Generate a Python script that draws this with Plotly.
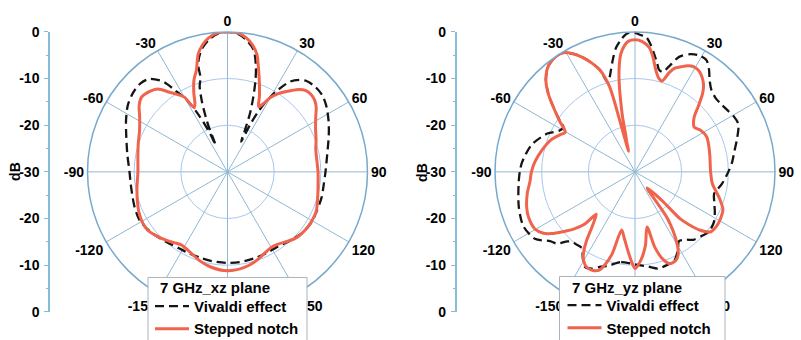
import plotly.graph_objects as go

# ---------------- data ----------------
# Left panel: 7 GHz xz plane
xz_vivaldi_deg = [-180, -170, -163, -155, -147.6, -138, -130, -124, -118.4, -111, -105, -97, -90,
                  -80, -69.4, -63, -56.2, -50, -44.3, -40, -35.5, -32.6, -29.1, -26.5, -24.5, -23.9,
                  -22.5, -21.7, -20, -18, -16, -15.2, -12, -8, -4, 0,
                  4, 8, 12, 15, 17, 19, 21, 22.5, 24.3, 25.5, 27, 29, 31, 34.8, 38, 41, 46,
                  51.2, 56, 63, 70, 80, 90, 97.5, 105, 115.1, 121, 128.7, 137, 146.2, 155, 163, 172, 180]
xz_vivaldi_db = [-10.5, -10.6, -10.7, -10.7, -10.6, -10.0, -9.3, -8.8, -8.5, -8.7, -8.95, -9.1, -9.0,
                 -8.2, -6.8, -5.6, -4.3, -3.6, -3.4, -4.0, -6.2, -9.4, -12.8, -17.0, -21.0, -23.7,
                 -19.5, -17.5, -14.0, -10.7, -9.0, -6.0, -3.2, -1.4, -0.3, 0.0,
                 -0.3, -1.4, -3.2, -6.5, -9.5, -13.0, -16.5, -20.0, -22.9, -19.0, -15.5, -12.5, -10.0,
                 -6.4, -5.0, -4.2, -3.8, -3.9, -4.5, -5.7, -6.9, -8.3, -9.0, -9.2, -9.1, -9.1, -9.0,
                 -9.3, -10.0, -10.7, -10.7, -10.6, -10.5, -10.5]

xz_notch_deg = [-180, -170, -163, -157, -152, -148, -143, -138, -132, -126, -121, -115, -108, -100,
                -90, -80, -72, -65, -58, -53, -49, -44, -40, -36, -33, -30, -27.5, -25.5, -23, -20,
                -17, -14, -11, -8, -4, 0, 4, 8, 11, 14, 17, 20, 23, 25.5, 27.5, 30, 33, 37.8, 41,
                44, 47, 50.5, 54, 58, 64, 70, 76, 84, 90, 98, 106, 114, 121.7, 127, 133, 139, 145,
                150, 155, 162, 170, 180]
xz_notch_db = [-8.8, -9.3, -10.0, -10.8, -11.3, -11.5, -11.0, -10.3, -9.5, -8.8, -8.8, -9.1, -9.7,
               -10.3, -10.8, -10.5, -9.9, -9.2, -7.8, -6.3, -5.6, -6.0, -6.8, -8.9, -10.2, -11.5,
               -14.5, -13.8, -11.5, -9.0, -7.2, -4.0, -2.2, -1.0, -0.1, 0.0, -0.1, -1.0, -2.2,
               -4.0, -7.2, -10.0, -12.5, -14.5, -13.6, -11.6, -10.0, -8.0, -6.6, -5.8, -5.6, -5.8,
               -6.5, -7.7, -9.0, -9.8, -10.5, -10.7, -10.6, -10.4, -9.9, -9.2, -9.1, -9.2, -9.5,
               -10.3, -11.1, -11.3, -10.9, -10.0, -9.2, -8.8]

# Right panel: 7 GHz yz plane
yz_vivaldi_deg = [-180, -170.6, -163.9, -160.2, -156, -152.2, -149, -145, -141, -138.4, -135.8,
                  -132.6, -129.2, -123.7, -115.9, -106.7, -96.2, -90, -85.2, -75.3, -66.4, -61.5,
                  -58.1, -55, -51.9, -48, -44, -39, -34, -31, -27.5, -24.6, -21.5, -19, -16.9, -15,
                  -13.2, -11, -8.7, -6, -3.3, 0, 2, 4.7, 7, 9.2, 11.5, 13.2, 15.5, 17.7, 21, 25.3,
                  29, 32.7, 36, 39, 43, 47.9, 52, 57.2, 61, 65.2, 72, 78, 84.4, 90, 97.9, 105.4,
                  111, 117, 122, 128.9, 134, 139.3, 143, 147.7, 151, 156.1, 161, 166.5, 172, 177.5, 180]
yz_vivaldi_db = [-10.2, -10.4, -9.0, -8.4, -7.3, -7.0, -8.3, -10.1, -10.0, -9.9, -9.2,
                 -7.3, -6.5, -4.2, -3.4, -4.0, -4.9, -5.3, -5.7, -7.1, -9.5, -11.5,
                 -11.9, -10.0, -7.9, -5.0, -2.5, -0.6, 0.0, -0.2, -1.5, -3.0, -5.0, -6.9, -10.0, -9.0,
                 -7.5, -5.3, -3.1, -1.5, -0.3, -0.2, -0.6, -1.0, -2.5, -4.4, -6.2, -7.5, -7.8, -6.4,
                 -3.6, -2.1, -1.5, -1.6, -3.0, -4.6, -6.0, -6.6, -6.5, -6.1, -5.7, -5.6, -7.0, -8.2,
                 -9.1, -10.0, -11.2, -12.4, -11.8, -10.8, -10.0, -9.6, -10.2, -10.8, -11.8, -12.4,
                 -11.0, -9.2, -8.9, -8.7, -9.5, -10.0, -10.2]

yz_notch_deg = [-180, -177.5, -174.9, -171, -167.1, -164.4, -162, -160, -156.5, -153, -150, -147.9,
                -145, -142.4, -140, -137.5, -136.1, -133, -129.6, -126.5, -123.9, -119.7, -113,
                -107.9, -101, -95.2, -90, -84.6, -77, -69.3, -64, -60.4, -56, -51.9, -48, -44, -39,
                -34, -31, -27.5, -24.6, -21.5, -19, -17.5, -16.6, -16.3, -16.5, -17.2, -15.5, -14,
                -12.8, -11.5, -10.2, -8.9, -6.9, -5, -3, 0, 3, 6.6, 9, 11.5, 14, 16.6, 19, 21, 23.7,
                26.5, 29.3, 32.5, 35.5, 38.5, 41, 44, 47.4, 52.9, 58, 63.9, 70, 78, 90, 98.9, 104,
                108.2, 113.2, 118.9, 124, 128.3, 132, 134.5, 136.1, 136.8, 142.9, 145.2, 149.8,
                152.5, 155.3, 159.4, 162.5, 165.2, 167.7, 172, 176.3, 180]
yz_notch_db = [-9.3, -11.0, -13.0, -15.5, -17.2, -11.7, -9.0, -7.6, -7.0, -7.1, -8.0, -9.2,
               -11.8, -14.7, -16.5, -17.7, -14.5, -12.0, -9.9, -7.8, -6.4, -5.3, -5.2,
               -5.6, -6.5, -7.4, -7.8, -8.4, -9.5, -10.7, -12.0, -12.8, -10.5, -7.9, -5.0, -2.5, -0.6,
               0.0, -0.2, -1.5, -3.0, -5.0, -6.9, -9.0, -11.0, -14.0, -18.0, -25.4, -23.5, -21.6,
               -18.0, -14.7, -11.0, -7.9, -4.6, -3.0, -2.0, -1.7, -2.0, -3.2, -5.2, -7.7, -9.2, -9.7,
               -7.5, -6.2, -5.4, -4.6, -4.2, -4.4, -5.2, -6.4, -8.0, -10.5, -12.8, -14.1, -13.3,
               -12.9, -13.2, -13.6, -13.8, -13.2, -12.0, -10.8, -9.5, -9.1, -9.0, -9.3, -11.4,
               -14.0, -16.0, -21.7, -25.7, -17.7, -12.0, -10.0, -9.1, -9.0, -10.5, -13.2, -17.9,
               -14.0, -11.0, -9.3]

angle_ticks = [0, 30, 60, 90, 120, 150, 180, 210, 240, 270, 300, 330]
angle_labels = ["0", "30", "60", "90", "120", "150", "180", "-150", "-120", "-90", "-60", "-30"]
ring_ticks = [-20, -10, 0]
db_axis_vals = [-30, -20, -10, 0, 10, 20, 30]
db_axis_labels = ["0", "-10", "-20", "-30", "-20", "-10", "0"]
series_names = ["Vivaldi effect", "Stepped notch"]
legend_titles = ["7 GHz_xz plane", "7 GHz_yz plane"]

# ---------------- styling ----------------
# The figure is a little taller than the 340 px window so that the legend boxes can run
# off the bottom edge as in the reference; the page itself is kept from scrolling.
W, H = 801, 360
FONT = "Liberation Sans"
RED = "#f0634c"
BLACK = "#151515"
AXBLUE = "#86bcd8"
RINGBLUE = "#a8c8ec"
SPOKEBLUE = "#8fb8d4"
OUTER = "#78a9cc"
BOXLINE = "#a9b3bd"

bold = dict(family=FONT, size=14, color="black", weight="bold")
bold15 = dict(family=FONT, size=15, color="black", weight="bold")


def px_y(p):
    """paper y from a pixel row counted from the top"""
    return (H - p) / H


fig = go.Figure()

panels = [
    ("polar", "legend", xz_vivaldi_deg, xz_vivaldi_db, xz_notch_deg, xz_notch_db),
    ("polar2", "legend2", yz_vivaldi_deg, yz_vivaldi_db, yz_notch_deg, yz_notch_db),
]
for sub, leg, vdeg, vdb, ndeg, ndb in panels:
    fig.add_trace(go.Scatterpolar(
        theta=vdeg, r=vdb, mode="lines", name=series_names[0], subplot=sub, legend=leg,
        line=dict(color=BLACK, width=2.3, dash="9px,5px", shape="spline", smoothing=0.8)))
    fig.add_trace(go.Scatterpolar(
        theta=ndeg, r=ndb, mode="lines", name=series_names[1], subplot=sub, legend=leg,
        line=dict(color=RED, width=3, shape="spline", smoothing=0.8)))

# empty carriers for the two dB scale axes
fig.add_trace(go.Scatter(x=[], y=[], xaxis="x", yaxis="y", showlegend=False, hoverinfo="skip"))
fig.add_trace(go.Scatter(x=[], y=[], xaxis="x2", yaxis="y2", showlegend=False, hoverinfo="skip"))

ydom = [px_y(318), px_y(25)]


def polar_cfg(xdom):
    return dict(
        domain=dict(x=xdom, y=ydom),
        bgcolor="white",
        angularaxis=dict(
            rotation=90, direction="clockwise", tickmode="array",
            tickvals=angle_ticks, ticktext=angle_labels,
            showline=True, linecolor=OUTER, linewidth=1.5,
            showgrid=True, gridcolor=SPOKEBLUE, gridwidth=1,
            ticks="", tickfont=bold),
        radialaxis=dict(
            range=[-30, 0], tickmode="array", tickvals=ring_ticks,
            showticklabels=False, ticks="", showline=False,
            showgrid=True, gridcolor=RINGBLUE, gridwidth=1),
    )


def dbaxis(xname):
    return dict(
        domain=ydom, anchor=xname, range=[-30, 30], side="left",
        tickmode="array", tickvals=db_axis_vals, ticktext=db_axis_labels,
        showline=True, linecolor=AXBLUE, linewidth=1.5,
        ticks="outside", ticklen=4, tickcolor=AXBLUE, tickwidth=1.2,
        minor=dict(tickmode="linear", tick0=-30, dtick=5, ticks="outside",
                   ticklen=2, tickcolor=AXBLUE, showgrid=False),
        showgrid=False, zeroline=False, tickfont=bold, ticklabelstandoff=2,
        fixedrange=True)


legend_common = dict(
    xanchor="left", yanchor="top", bgcolor="rgba(0,0,0,0)", borderwidth=0,
    font=bold15, itemwidth=34)

# legend boxes: (left, right) pixel columns, top pixel row
boxes = [(148, 307, 282), (559.5, 725, 281)]

shapes = []
annotations = [
    dict(text="dB", x=15 / W, y=px_y(171.5), xref="paper", yref="paper", showarrow=False,
         textangle=-90, font=bold, xanchor="center", yanchor="middle"),
    dict(text="dB", x=422 / W, y=px_y(171.5), xref="paper", yref="paper", showarrow=False,
         textangle=-90, font=bold, xanchor="center", yanchor="middle"),
]
for (bx0, bx1, by), title in zip(boxes, legend_titles):
    shapes.append(dict(type="rect", xref="paper", yref="paper", layer="above",
                       x0=bx0 / W, x1=bx1 / W, y0=px_y(H + 5), y1=px_y(by),
                       fillcolor="white", line=dict(color=BOXLINE, width=1)))
    annotations.append(dict(text=title, x=(bx0 + 10) / W, y=px_y(by + 11), xref="paper",
                            yref="paper", showarrow=False, font=bold15,
                            xanchor="left", yanchor="middle"))

fig.update_layout(
    width=W, height=H, margin=dict(l=0, r=0, t=0, b=0),
    paper_bgcolor="white", plot_bgcolor="rgba(0,0,0,0)",
    font=dict(family=FONT, size=14, color="black"),
    polar=polar_cfg([81 / W, 374 / W]),
    polar2=polar_cfg([488.3 / W, 781.7 / W]),
    xaxis=dict(domain=[50 / W, 60 / W], visible=False, range=[0, 1], fixedrange=True),
    xaxis2=dict(domain=[456.5 / W, 466 / W], visible=False, range=[0, 1], fixedrange=True),
    yaxis=dbaxis("x"),
    yaxis2=dbaxis("x2"),
    legend=dict(legend_common, x=(boxes[0][0] + 2) / W, y=px_y(boxes[0][2] + 13)),
    legend2=dict(legend_common, x=(boxes[1][0] + 3) / W, y=px_y(boxes[1][2] + 13)),
    shapes=shapes,
    annotations=annotations,
    showlegend=True,
)

fig.write_html(
    "out.html",
    post_script="document.documentElement.style.overflow='hidden';"
                "document.body.style.overflow='hidden';document.body.style.margin='0';")
